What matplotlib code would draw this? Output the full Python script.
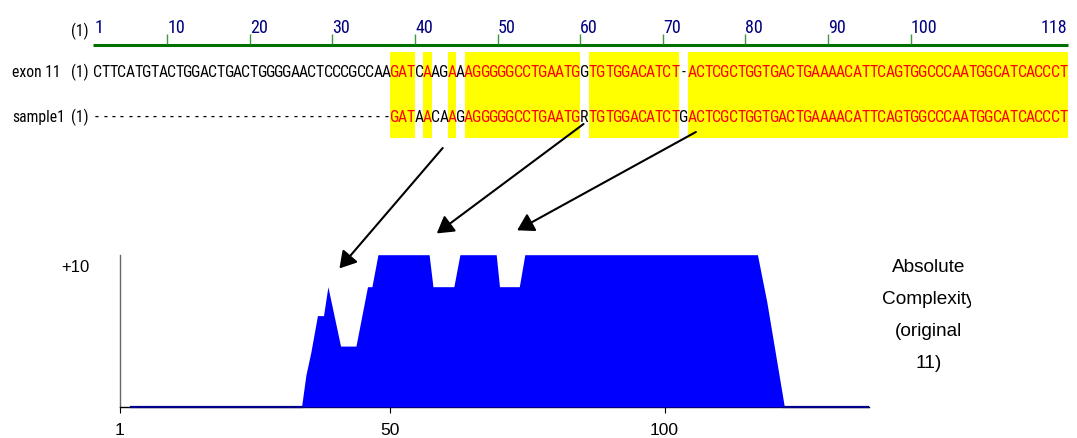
import os
import matplotlib
matplotlib.use("Agg")
import matplotlib.pyplot as plt
from matplotlib import font_manager
from matplotlib.font_manager import FontProperties
from matplotlib.textpath import TextPath
from matplotlib.transforms import Bbox

# alignment data
exon = ("CTTCATGTACTGGACTGACTGGGGAACTCCCGCCAA" "GATCAAGAA" "AGGGGGCCTGAATG" "G"
        "TGTGGACATCT" "-" "ACTCGCTGGTGACTGAAAACATTCAGTGGCCCAATGGCATCACCCT")
sample = ("-" * 36 + "GATAACAAG" "AGGGGGCCTGAATG" "R"
          "TGTGGACATCT" "G" "ACTCGCTGGTGACTGAAAACATTCAGTGGCCCAATGGCATCACCCT")
row_names = ["exon 11", "sample1"]
ruler_ticks = [10, 20, 30, 40, 50, 60, 70, 80, 90, 100]
seq_len = 118

# complexity profile (position, value)
prof_pos = [3, 34.0, 34.8, 35.7, 36.9, 38.0, 38.8, 41.1, 43.9, 46.0, 46.8, 47.9,
            57.2, 57.9, 61.7, 62.8, 69.4, 70.0, 73.6, 74.6, 116.9, 118.6, 121.8, 137]
prof_val = [0, 0, 2.1, 3.6, 6.0, 6.0, 7.9, 4.0, 4.0, 7.9, 7.9, 10,
            10, 7.9, 7.9, 10, 10, 7.9, 7.9, 10, 10, 6.9, 0, 0]
x_ticks = [1, 50, 100]
side_label = ["Absolute", "Complexity", "(original", "11)"]

# arrows: (sequence position, row pixel) -> (profile position, value)
arrows = [((43.35, 149), (40.9, 9.1)),
          ((60.4, 125), (58.6, 11.4)),
          ((74.0, 133), (73.2, 11.6))]

W, H = 1077, 439
X1, CW = 92.9, 8.26   # left edge of base 1 and width of one base, pixels
PX = 100 / 72


def narrow_font():
    wanted = ["notosans-extracondensed.ttf", "liberationsansnarrow-regular.ttf",
              "notosans-condensed.ttf", "robotocondensed-regular.ttf",
              "dejavusanscondensed.ttf"]
    files = {os.path.basename(f.fname).lower(): f.fname for f in font_manager.fontManager.ttflist}
    for w in wanted:
        if w in files:
            return FontProperties(fname=files[w])
    return FontProperties(family="DejaVu Sans", stretch="condensed")


def fit_size(fp, chars, max_w, max_h):
    w = max(TextPath((0, 0), c, size=10, prop=fp).get_extents().width for c in chars)
    h = TextPath((0, 0), chars[0], size=10, prop=fp).get_extents().height
    return min(10 * max_w / (w * PX), 10 * max_h / (h * PX))


def fit_word(fp, word, max_w):
    w = TextPath((0, 0), word, size=10, prop=fp).get_extents().width
    return 10 * max_w / (w * PX)


base_fp = narrow_font()
fp_seq = base_fp.copy()
fp_seq.set_size(fit_size(base_fp, "TACGR", CW * 1.02, 17))
fp_num = base_fp.copy()
fp_num.set_size(fit_size(base_fp, "10234", 7.8, 21))
fp_lab = base_fp.copy()
fp_lab.set_size(fit_word(base_fp, "exon 11", 45))

match = [a == b and a != "-" for a, b in zip(exon, sample)]
runs = []
i = 0
while i < seq_len:
    if match[i]:
        j = i
        while j < seq_len and match[j]:
            j += 1
        runs.append((i + 1, j - i))
        i = j
    else:
        i += 1

fig = plt.figure(figsize=(W / 100, H / 100), dpi=100)

# complexity plot
ax = fig.add_axes([120 / W, 1 - 408 / H, 749 / W, 152.3 / H])
ax.fill_between(prof_pos, prof_val, color="#0000FF", lw=0, zorder=3)
for k in range(len(prof_pos) - 1):
    if prof_val[k] == 0 and prof_val[k + 1] == 0:
        ax.plot(prof_pos[k:k + 2], [0, 0], color="#00008B", lw=1.6, clip_on=False, zorder=4)
ax.set_xlim(1, 1 + 749 / 5.5)
ax.set_ylim(0, 10)
for s in ["top", "right"]:
    ax.spines[s].set_visible(False)
ax.spines["left"].set_color("#666666")
ax.spines["left"].set_linewidth(1)
ax.spines["bottom"].set_color("black")
ax.spines["bottom"].set_linewidth(1)
ax.set_yticks([])
ax.set_xticks(x_ticks)
ax.set_xticklabels([str(t) for t in x_ticks], family="Liberation Sans", fontsize=12.5)
ax.tick_params(axis="x", length=4, width=0.8, pad=7)
ax.text(-31 / 749, (408 - 268) / 152.3, "+10", transform=ax.transAxes, ha="right", va="center",
        family="Liberation Sans", fontsize=12)
for k, s in enumerate(side_label):
    t = ax.text((929 - 120) / 749, (408 - 268 - 32 * k) / 152.3, s, transform=ax.transAxes,
                ha="center", va="center", family="Liberation Sans", fontsize=13.7)
    t.set_clip_box(Bbox.from_extents(0, 0, 971, H))
    t.set_clip_on(True)

# alignment view
ax2 = fig.add_axes([0, 0, 1, 1], zorder=5)
ax2.set_xlim(1 - X1 / CW, 1 + (W - X1) / CW)
ax2.set_ylim(H, 0)
ax2.axis("off")

ax2.bar([r[0] for r in runs], [86.3] * len(runs), width=[r[1] for r in runs], bottom=52.7,
        align="edge", color="#FFFF00", lw=0)

# ruler
ax2.plot([1, seq_len + 1], [46, 46], color="#007000", lw=2.2, solid_capstyle="butt")
ax2.vlines(ruler_ticks, 35, 45, color="#3A9A3A", lw=1)
for t in ruler_ticks:
    ax2.text(t, 33, str(t), ha="left", va="baseline", color="#000080", fontproperties=fp_num)
ax2.text(1.2, 33, "1", ha="left", va="baseline", color="#000080", fontproperties=fp_num)
ax2.text(seq_len + 1, 33, str(seq_len), ha="right", va="baseline", color="#000080", fontproperties=fp_num)
ax2.text(1 + (79.5 - X1) / CW, 36, "(1)", ha="center", va="baseline", color="black", fontproperties=fp_lab)

for seq, name, base in [(exon, row_names[0], 77), (sample, row_names[1], 122)]:
    ax2.text(1 + (12 - X1) / CW, base, name, ha="left", va="baseline", fontproperties=fp_lab)
    ax2.text(1 + (79.5 - X1) / CW, base, "(1)", ha="center", va="baseline", fontproperties=fp_lab)
    for k, ch in enumerate(seq):
        ax2.text(k + 1.5, base, ch, ha="center", va="baseline",
                 color="#FF0000" if match[k] else "black", fontproperties=fp_seq)

for (sp, sy), (bp, bv) in arrows:
    ax2.annotate("", xy=(bp, bv), xycoords=ax.transData, xytext=(sp, sy), textcoords="data",
                 arrowprops=dict(arrowstyle="-|>,head_length=1.0,head_width=0.6", mutation_scale=10,
                                 color="black", lw=1.5, shrinkA=0, shrinkB=0),
                 annotation_clip=False)

fig.savefig("out.png", dpi=100)
